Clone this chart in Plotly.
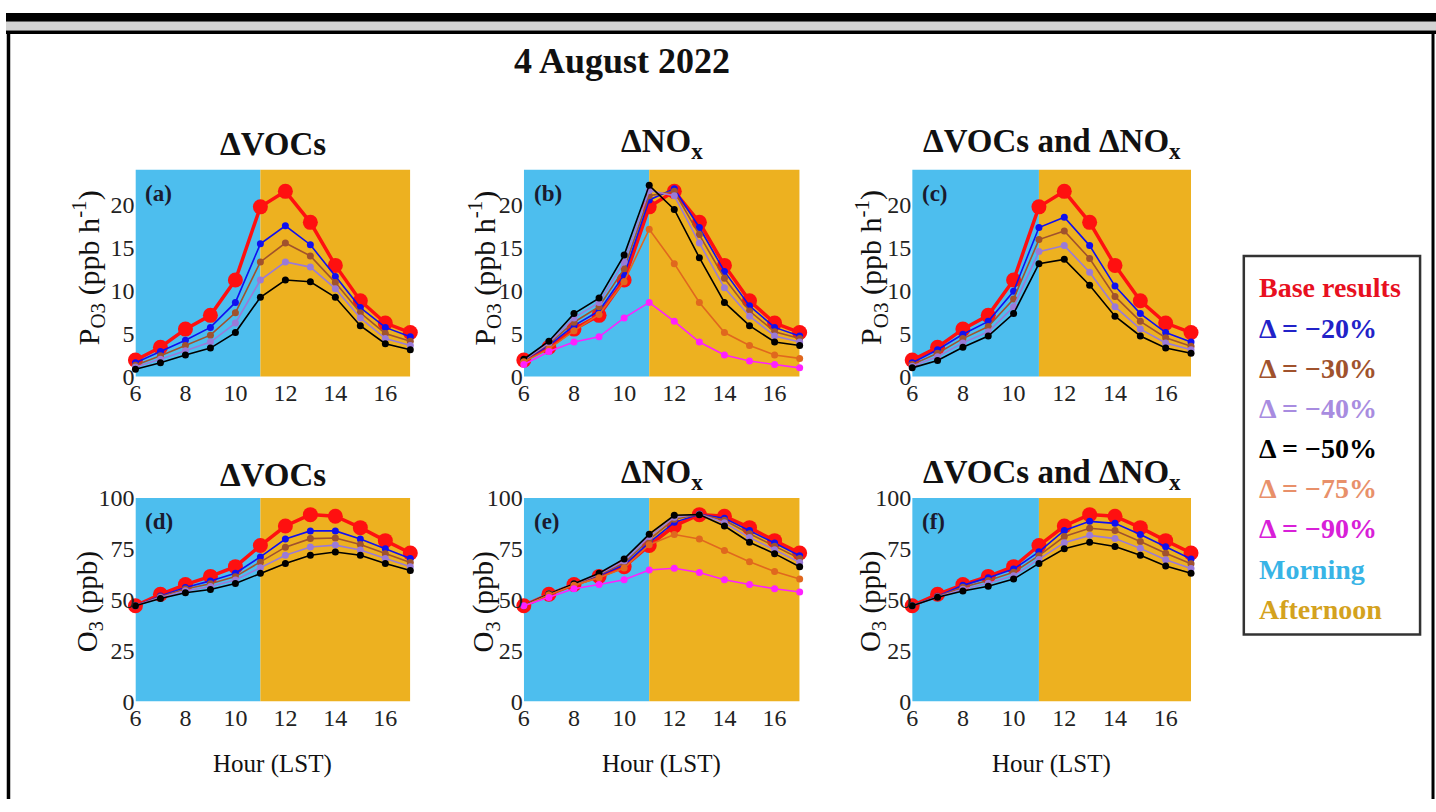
import plotly.graph_objects as go
from plotly.subplots import make_subplots

# ---------------- data ----------------
hours = [6, 7, 8, 9, 10, 11, 12, 13, 14, 15, 16, 17]
x_ticks = [6, 8, 10, 12, 14, 16]
p_ticks = [0, 5, 10, 15, 20]
o3_ticks = [0, 25, 50, 75, 100]

# P(O3) (ppb h-1)
p_base = [1.9, 3.4, 5.5, 7.1, 11.2, 19.7, 21.5, 17.9, 12.9, 8.8, 6.2, 5.1]
# (a) dVOCs
p_voc_20 = [1.6, 2.9, 4.2, 5.7, 8.6, 15.4, 17.5, 15.3, 11.6, 8.0, 5.7, 4.6]
p_voc_30 = [1.3, 2.4, 3.6, 4.8, 7.4, 13.3, 15.5, 14.0, 10.9, 7.4, 5.0, 4.1]
p_voc_40 = [1.1, 2.0, 3.0, 4.0, 6.2, 11.2, 13.3, 12.7, 10.2, 6.8, 4.4, 3.6]
p_voc_50 = [0.85, 1.6, 2.5, 3.3, 5.1, 9.2, 11.2, 11.0, 9.2, 5.9, 3.8, 3.1]
# (b) dNOx
p_nox_20 = [1.9, 3.6, 5.9, 7.6, 11.8, 20.5, 21.8, 17.3, 12.2, 8.2, 5.7, 4.7]
p_nox_30 = [1.9, 3.8, 6.3, 8.1, 12.5, 21.0, 21.5, 16.5, 11.4, 7.6, 5.2, 4.4]
p_nox_40 = [1.9, 3.9, 6.8, 8.6, 13.3, 21.6, 21.0, 15.5, 10.3, 7.0, 4.7, 4.0]
p_nox_50 = [2.0, 4.1, 7.3, 9.1, 14.1, 22.2, 19.4, 13.8, 8.6, 5.9, 4.0, 3.6]
p_nox_75 = [1.7, 3.2, 5.3, 7.2, 11.0, 17.1, 13.1, 8.6, 5.1, 3.6, 2.5, 2.1]
p_nox_90 = [1.4, 2.9, 4.0, 4.6, 6.8, 8.6, 6.4, 4.0, 2.5, 1.8, 1.4, 1.0]
# (c) dVOCs and dNOx
p_both_20 = [1.6, 3.1, 4.9, 6.4, 9.9, 17.3, 18.5, 15.2, 10.5, 7.3, 5.1, 4.0]
p_both_30 = [1.4, 2.7, 4.4, 5.8, 9.0, 15.9, 16.9, 13.7, 9.3, 6.4, 4.5, 3.5]
p_both_40 = [1.2, 2.3, 3.9, 5.2, 8.1, 14.5, 15.2, 12.1, 8.1, 5.5, 3.9, 3.1]
p_both_50 = [1.0, 1.85, 3.4, 4.7, 7.3, 13.1, 13.6, 10.6, 7.0, 4.7, 3.3, 2.7]

# O3 (ppb)
o3_base = [47.0, 52.6, 57.4, 61.4, 66.2, 76.6, 86.2, 91.8, 91.0, 85.4, 79.0, 72.9]
# (d) dVOCs
o3_voc_20 = [47.0, 51.8, 56.0, 59.2, 63.0, 71.0, 79.8, 83.8, 83.8, 79.8, 75.0, 70.2]
o3_voc_30 = [47.0, 51.4, 55.2, 57.8, 61.3, 68.4, 75.8, 80.0, 80.3, 77.1, 72.6, 68.2]
o3_voc_40 = [47.0, 51.0, 54.3, 56.4, 59.6, 65.7, 71.8, 75.9, 76.8, 74.4, 70.2, 66.2]
o3_voc_50 = [47.0, 50.5, 53.4, 55.0, 57.9, 63.0, 67.8, 71.8, 73.4, 71.8, 67.8, 64.3]
# (e) dNOx
o3_nox_20 = [47.0, 52.6, 57.5, 61.8, 67.0, 78.0, 88.0, 92.0, 90.0, 84.0, 77.8, 71.6]
o3_nox_30 = [47.0, 52.7, 57.6, 62.2, 68.0, 79.5, 89.5, 92.0, 89.0, 82.4, 76.3, 70.2]
o3_nox_40 = [47.0, 52.7, 57.7, 62.6, 69.0, 81.0, 90.5, 92.0, 87.8, 80.5, 74.5, 68.3]
o3_nox_50 = [47.0, 52.8, 57.8, 63.0, 70.0, 82.2, 91.5, 91.8, 86.2, 78.2, 72.6, 66.2]
o3_nox_75 = [47.0, 52.4, 57.0, 60.8, 65.5, 77.0, 82.0, 79.8, 74.2, 68.6, 63.8, 60.1]
o3_nox_90 = [47.0, 51.0, 55.3, 57.4, 59.8, 64.6, 65.4, 63.3, 59.8, 57.4, 55.3, 53.7]
# (f) dVOCs and dNOx
o3_both_20 = [47.0, 51.6, 57.0, 60.8, 65.0, 73.5, 84.0, 88.5, 87.5, 82.0, 76.0, 70.0]
o3_both_30 = [47.0, 51.5, 56.1, 59.4, 63.4, 71.6, 81.0, 85.1, 84.0, 78.6, 72.8, 67.6]
o3_both_40 = [47.0, 51.3, 55.1, 58.0, 61.7, 69.7, 78.0, 81.6, 80.0, 75.2, 69.6, 65.3]
o3_both_50 = [47.0, 51.2, 54.2, 56.6, 60.1, 67.8, 75.0, 78.2, 76.1, 71.8, 66.5, 63.0]

series_names = ["Base results", "Δ = −20%", "Δ = −30%", "Δ = −40%",
                "Δ = −50%", "Δ = −75%", "Δ = −90%"]
panel_titles = ["ΔVOCs", "ΔNO<sub>x</sub>", "ΔVOCs and ΔNO<sub>x</sub>"]
panel_letters = ["(a)", "(b)", "(c)", "(d)", "(e)", "(f)"]
title_text = "4 August 2022"

# ---------------- styles ----------------
W, H = 1436, 812
FONT = "Liberation Serif"
line_colors = ["#ff1010", "#1010f0", "#a0522d", "#9a7ad8", "#000000", "#e0681e", "#ff20ff"]
legend_colors = ["#e8101f", "#2222c8", "#a0522d", "#a88ce0", "#000000", "#e8906a", "#d820d8",
                 "#38b4e6", "#d4a21e"]
MORNING = "#4DBEEE"
AFTERNOON = "#EDB120"

panels = [
    (1, 1, [p_base, p_voc_20, p_voc_30, p_voc_40, p_voc_50]),
    (1, 2, [p_base, p_nox_20, p_nox_30, p_nox_40, p_nox_50, p_nox_75, p_nox_90]),
    (1, 3, [p_base, p_both_20, p_both_30, p_both_40, p_both_50]),
    (2, 1, [o3_base, o3_voc_20, o3_voc_30, o3_voc_40, o3_voc_50]),
    (2, 2, [o3_base, o3_nox_20, o3_nox_30, o3_nox_40, o3_nox_50, o3_nox_75, o3_nox_90]),
    (2, 3, [o3_base, o3_both_20, o3_both_30, o3_both_40, o3_both_50]),
]

# pixel positions of the plot boxes (page margin removed, so pixel = screen pixel)
cols_px = [(130, 406), (520, 797), (910, 1190)]
rows_px = [(162, 375.5), (501, 711)]
ylabel_x = [83, 481, 869]
ylabel_y = [263, 608]
title_dy = [27, 24]


def fx(px):
    return px / W


def fy(py):
    return 1 - py / H


fig = make_subplots(rows=2, cols=3)

for (r, c, series) in panels:
    for i, ys in enumerate(series):
        if i == 0:
            ln = dict(color=line_colors[0], width=3.5)
            mk = dict(color=line_colors[0], size=15)
        else:
            ln = dict(color=line_colors[i], width=1.6)
            mk = dict(color=line_colors[i], size=7)
        fig.add_trace(go.Scatter(x=hours, y=ys, mode="lines+markers", name=series_names[i],
                                 line=ln, marker=mk, showlegend=False, cliponaxis=False,
                                 hoverinfo="skip"),
                      row=r, col=c)

shapes = []
annotations = []
for idx in range(6):
    r = idx // 3
    c = idx % 3
    n = idx + 1
    xa = "xaxis" if n == 1 else f"xaxis{n}"
    ya = "yaxis" if n == 1 else f"yaxis{n}"
    xref = "x" if n == 1 else f"x{n}"
    yref = "y" if n == 1 else f"y{n}"
    x0, x1 = cols_px[c]
    y0, y1 = rows_px[r]
    fig.layout[xa].update(domain=[fx(x0), fx(x1)], range=[6, 17], tickvals=x_ticks,
                          showgrid=False, zeroline=False, showline=False, ticks="",
                          tickfont=dict(family=FONT, size=24, color="#222"))
    if r == 0:
        fig.layout[ya].update(domain=[fy(y1), fy(y0)], range=[0, 24], tickvals=p_ticks)
    else:
        fig.layout[ya].update(domain=[fy(y1), fy(y0)], range=[0, 100], tickvals=o3_ticks)
    fig.layout[ya].update(showgrid=False, zeroline=False, showline=False, ticks="",
                          tickfont=dict(family=FONT, size=24, color="#222"))
    # morning / afternoon background
    shapes.append(dict(type="rect", xref=xref, yref=f"{yref} domain", x0=6, x1=11, y0=0, y1=1,
                       fillcolor=MORNING, line=dict(width=0), layer="below"))
    shapes.append(dict(type="rect", xref=xref, yref=f"{yref} domain", x0=11, x1=17, y0=0, y1=1,
                       fillcolor=AFTERNOON, line=dict(width=0), layer="below"))
    # panel letter
    annotations.append(dict(text=f"<b>{panel_letters[idx]}</b>", xref="paper", yref="paper",
                            x=fx(x0 + 8), y=fy(y0 + 24), xanchor="left", yanchor="middle",
                            showarrow=False, font=dict(family=FONT, size=23, color="#1a1a2e")))
    # panel title
    annotations.append(dict(text=f"<b>{panel_titles[c]}</b>", xref="paper", yref="paper",
                            x=fx((x0 + x1) / 2), y=fy(y0 - title_dy[r]), xanchor="center",
                            yanchor="middle", showarrow=False,
                            font=dict(family=FONT, size=33, color="#111")))
    # y title
    ytxt = "P<sub>O3</sub> (ppb h<sup>-1</sup>)" if r == 0 else "O<sub>3</sub> (ppb)"
    annotations.append(dict(text=ytxt, xref="paper", yref="paper", textangle=-90,
                            x=fx(ylabel_x[c]), y=fy(ylabel_y[r]), xanchor="center",
                            yanchor="middle", showarrow=False,
                            font=dict(family=FONT, size=30 if r == 0 else 29, color="#111")))

# x titles (bottom row)
for c in range(3):
    x0, x1 = cols_px[c]
    annotations.append(dict(text="Hour (LST)", xref="paper", yref="paper",
                            x=fx((x0 + x1) / 2), y=fy(776), xanchor="center", yanchor="middle",
                            showarrow=False, font=dict(family=FONT, size=25, color="#111")))

# main title
annotations.append(dict(text=f"<b>{title_text}</b>", xref="paper", yref="paper",
                        x=fx(619), y=fy(50), xanchor="center", yanchor="middle",
                        showarrow=False, font=dict(family=FONT, size=36, color="#111")))

# legend box (text)
legend_labels = series_names + ["Morning", "Afternoon"]
shapes.append(dict(type="rect", xref="paper", yref="paper", x0=fx(1243), x1=fx(1420),
                   y0=fy(642), y1=fy(251), line=dict(color="#333", width=2.5),
                   fillcolor="white", layer="below"))
for i, lab in enumerate(legend_labels):
    annotations.append(dict(text=f"<b>{lab}</b>", xref="paper", yref="paper",
                            x=fx(1256), y=fy(284 + i * 41.5), xanchor="left", yanchor="middle",
                            showarrow=False, font=dict(family=FONT, size=28, color=legend_colors[i])))

# outer frame
shapes.append(dict(type="rect", xref="paper", yref="paper", x0=0, x1=1, y0=fy(9), y1=1,
                   fillcolor="#000", line=dict(width=0), layer="above"))
shapes.append(dict(type="rect", xref="paper", yref="paper", x0=0, x1=1, y0=fy(18), y1=fy(9),
                   fillcolor="#d2d2d2", line=dict(width=0), layer="above"))
shapes.append(dict(type="line", xref="paper", yref="paper", x0=0, x1=1, y0=fy(20), y1=fy(20),
                   line=dict(color="#000", width=3.5), layer="above"))
shapes.append(dict(type="line", xref="paper", yref="paper", x0=fx(2.5), x1=fx(2.5), y0=0,
                   y1=fy(19), line=dict(color="#000", width=3.5), layer="above"))
shapes.append(dict(type="line", xref="paper", yref="paper", x0=fx(1433), x1=fx(1433), y0=0,
                   y1=fy(19), line=dict(color="#000", width=3), layer="above"))

fig.update_layout(width=W, height=H, autosize=False, margin=dict(l=0, r=0, t=0, b=0),
                  paper_bgcolor="white", plot_bgcolor="white", showlegend=False,
                  hovermode=False, shapes=shapes, annotations=annotations,
                  font=dict(family=FONT, color="#111"))

fig.write_html("out.html", config={"displayModeBar": False},
               post_script="document.body.style.margin='0px';"
                           "document.body.style.padding='0px';"
                           "document.documentElement.style.overflow='hidden';")
